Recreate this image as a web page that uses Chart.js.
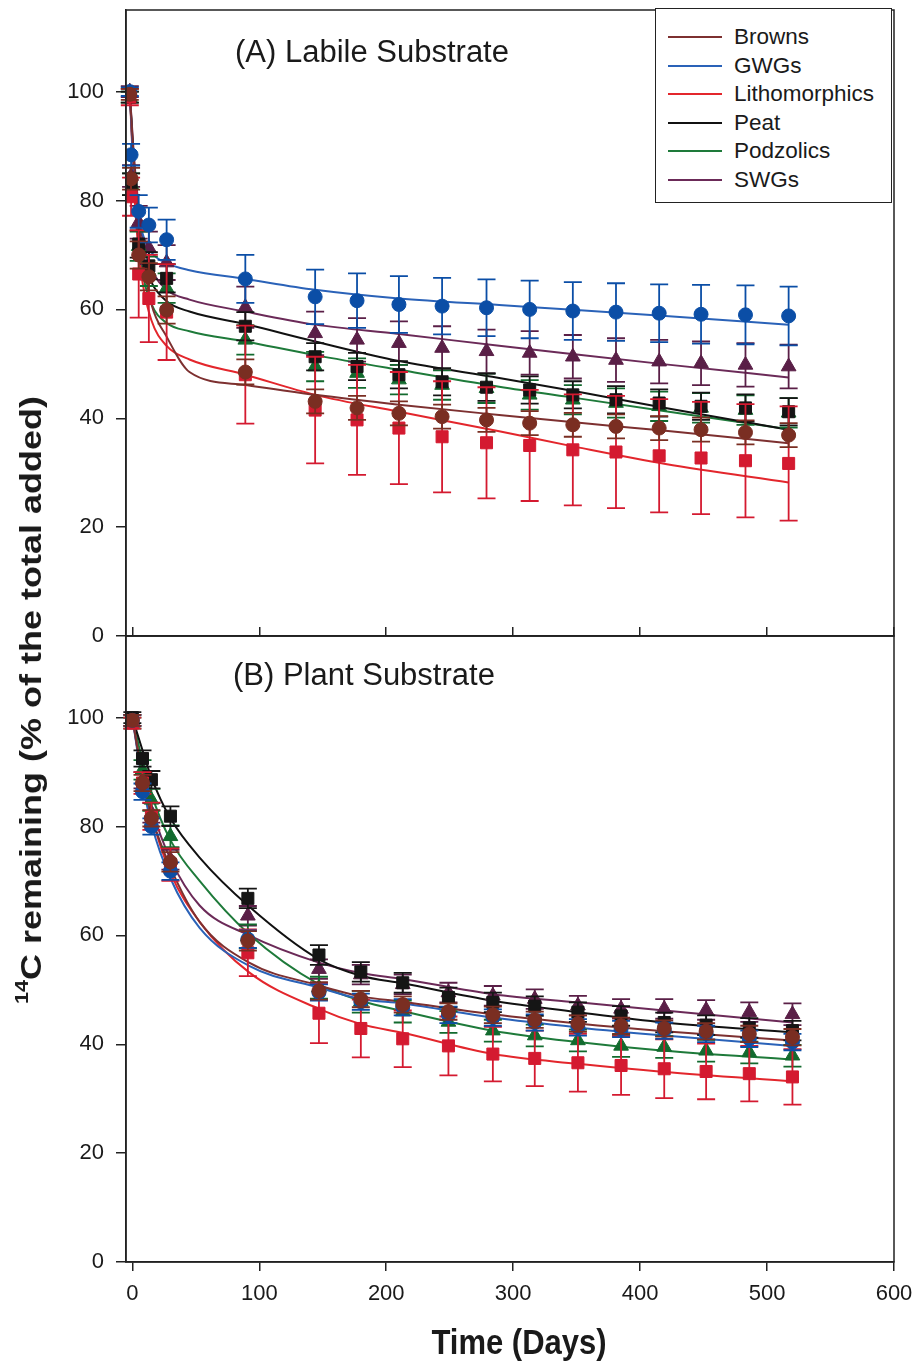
<!DOCTYPE html>
<html>
<head>
<meta charset="utf-8">
<script src="https://cdn.jsdelivr.net/npm/chart.js"></script>
<style>
  body { margin: 0; background: #fff; }
  #page { position: relative; width: 923px; height: 1364px; font-family: "Liberation Sans", Arial, sans-serif; color: #1a1a1a; }
  canvas { position: absolute; left: 0; }
  .ptitle { position: absolute; font-size: 31px; white-space: nowrap; }
  #ytitle { position: absolute; left: 31px; top: 700px; font-size: 30px; font-weight: bold; white-space: nowrap;
            transform: translate(-50%, -50%) rotate(-90deg) scaleX(1.2); }
  #xtitle { position: absolute; left: 519px; top: 1342px; font-size: 31px; font-weight: bold; white-space: nowrap;
            transform: translate(-50%, -50%) scaleY(1.15); }
  #legend { position: absolute; left: 655px; top: 8px; width: 237px; height: 195px; border: 1.5px solid #222; background: #fff; box-sizing: border-box; }
  .lrow { position: absolute; left: 0; height: 28px; font-size: 22.5px; line-height: 28px; white-space: nowrap; }
  .lrow i { position: absolute; left: 12px; top: 13px; width: 54px; height: 2px; }
  .lrow span { position: absolute; left: 78px; top: 0; }
</style>
</head>
<body>
<div id="page">
  <canvas id="chartA" width="923" height="646" style="top:0"></canvas>
  <canvas id="chartB" width="923" height="696" style="top:626px"></canvas>
  <div class="ptitle" style="left:235px; top:34px;">(A) Labile Substrate</div>
  <div class="ptitle" style="left:233px; top:657px;">(B) Plant Substrate</div>
  <div id="legend"></div>
  <div id="ytitle"><span style="font-size:0.6em; position:relative; top:-0.7em;">14</span>C remaining (% of the total added)</div>
  <div id="xtitle">Time (Days)</div>
</div>
<script>
// series
const seriesNames = ['Browns', 'GWGs', 'Lithomorphics', 'Peat', 'Podzolics', 'SWGs'];
const lineColors = ['#7d3030', '#2a62b8', '#e3262c', '#111111', '#1e7a3a', '#6b2a58'];
const markerColors = ['#7a2e22', '#0b4ea6', '#d41a30', '#151515', '#126a2e', '#5a1f47'];
const markerStyles = ['circle', 'circle', 'rect', 'rect', 'triangle', 'triangle'];

const xTicks = [0, 100, 200, 300, 400, 500, 600];
const yTicks = [0, 20, 40, 60, 80, 100];

// (A) Labile substrate - measured points
const daysA = [-2, -1, 5, 13, 27, 89, 144, 177, 210, 244, 279, 313, 347, 381, 415, 448, 483, 517];
const brownsA = [99.5, 84, 70, 66, 59.9, 48.5, 43.1, 41.9, 40.9, 40.3, 39.7, 39.1, 38.8, 38.5, 38.2, 37.9, 37.4, 36.9];
const gwgsA = [100, 88.4, 78, 75.5, 72.8, 65.6, 62.3, 61.6, 60.9, 60.6, 60.3, 60.0, 59.7, 59.5, 59.3, 59.1, 59.0, 58.8];
const lithoA = [99, 80.7, 66.5, 62, 59.5, 48.0, 41.5, 39.7, 38.2, 36.6, 35.5, 35.0, 34.2, 33.8, 33.1, 32.7, 32.2, 31.7];
const peatA = [99, 83, 72, 68, 65.7, 56.9, 51.3, 49.5, 48.0, 46.7, 45.7, 45.2, 44.3, 43.4, 42.8, 42.2, 41.9, 41.2];
const podzA = [99, 83, 71.6, 67, 63.9, 54.4, 49.5, 48.3, 47.1, 46.1, 45.5, 44.3, 43.4, 42.8, 42.2, 41.9, 41.5, 41.0];
const swgsA = [100, 84.5, 76, 71.3, 68.6, 60.4, 55.6, 54.4, 53.8, 52.9, 52.3, 52.0, 51.3, 50.7, 50.4, 50.1, 49.8, 49.5];

const brownsErrA = [1, 2, 2.5, 2.5, 2.5, 2.3, 2.2, 2.2, 2.2, 2.2, 2.2, 2.2, 2.2, 2.2, 2.2, 2.2, 2.2, 2.2];
const gwgsErrA = [0.8, 2, 3, 3.2, 3.7, 4.4, 5, 5, 5.2, 5.2, 5.2, 5.3, 5.3, 5.3, 5.3, 5.4, 5.4, 5.4];
const lithoErrA = [1.5, 3.5, 8, 8, 8.8, 9, 9.8, 10.1, 10.3, 10.2, 10.2, 10.2, 10.2, 10.3, 10.4, 10.3, 10.4, 10.5];
const peatErrA = [1, 2, 2.5, 2.5, 2.6, 2.6, 2.5, 2.5, 2.5, 2.5, 2.5, 2.5, 2.5, 2.5, 2.5, 2.5, 2.5, 2.5];
const podzErrA = [1, 2, 2.7, 2.7, 2.7, 2.7, 2.7, 2.7, 2.7, 2.7, 2.7, 2.7, 2.7, 2.7, 2.7, 2.7, 2.7, 2.7];
const swgsErrA = [1, 2, 3, 3, 3.2, 3.8, 4, 4, 4, 4, 4, 4, 4, 4, 4, 4, 4, 4];

// (A) fitted curves
const fitDaysA = [-2, 1, 4, 8, 15, 27, 45, 89, 144, 210, 289, 350, 420, 517];
const brownsFitA = [100, 88, 79, 70, 61, 55, 48.5, 46.1, 44.3, 42.5, 40.6, 39.2, 37.7, 35.4];
const gwgsFitA = [100, 86, 79, 74, 70.5, 68.5, 67.2, 65.6, 63.6, 62.0, 60.8, 59.9, 58.8, 57.2];
const lithoFitA = [100, 84, 73, 65, 58, 53.3, 50.8, 48, 44.3, 41.2, 37.6, 34.7, 31.6, 28.2];
const peatFitA = [100, 87, 78, 70, 65, 61.5, 59.6, 57.3, 54.1, 50.5, 47.4, 44.9, 41.9, 37.9];
const podzFitA = [100, 86, 76, 67, 61, 57.5, 56, 54.1, 51.6, 48.9, 45.8, 43.7, 41.3, 38.0];
const swgsFitA = [100, 89, 81, 73, 67.5, 63.6, 61.8, 59.6, 57.2, 55.5, 53.3, 51.7, 49.9, 47.5];

// (B) Plant substrate - measured points
const daysB = [0, 8, 15, 30, 91, 147, 180, 213, 249, 284, 317, 351, 385, 419, 452, 486, 520];
const brownsB = [99.5, 88, 81.5, 73.5, 59.0, 49.8, 48.3, 47.3, 46.0, 45.4, 44.5, 43.8, 43.4, 42.9, 42.4, 41.9, 41.3];
const gwgsB = [99.5, 86.4, 80.0, 71.8, 59.3, 49.5, 47.8, 46.8, 45.4, 44.9, 44.0, 43.1, 42.8, 42.5, 41.9, 41.0, 40.4];
const lithoB = [99, 88, 81.9, 73.0, 56.8, 45.7, 42.9, 41.0, 39.7, 38.2, 37.4, 36.6, 36.1, 35.5, 35.0, 34.6, 34.0];
const peatB = [100, 92.5, 88.6, 81.9, 66.8, 56.4, 53.3, 51.3, 48.6, 47.7, 47.0, 45.9, 45.2, 44.0, 43.5, 43.0, 42.5];
const podzB = [99, 90.4, 84.9, 78.2, 59.8, 50.4, 47.8, 46.0, 44.1, 42.5, 41.6, 40.7, 39.7, 39.5, 38.8, 38.5, 37.9];
const swgsB = [99.5, 88.5, 82.5, 73.9, 63.6, 53.8, 52.8, 51.0, 49.5, 48.9, 48.3, 47.1, 46.5, 46.5, 46.3, 45.9, 45.5];

const brownsErrB = [1, 1.5, 1.5, 1.8, 1.8, 1.6, 1.5, 1.5, 1.5, 1.5, 1.5, 1.5, 1.5, 1.5, 1.5, 1.5, 1.5];
const gwgsErrB = [1, 1.5, 1.5, 1.6, 1.6, 1.5, 1.5, 1.5, 1.5, 1.5, 1.5, 1.5, 1.5, 1.5, 1.5, 1.5, 1.5];
const lithoErrB = [1, 2, 2.5, 3, 4.3, 5.5, 5.3, 5.2, 5.4, 5.0, 5.1, 5.3, 5.4, 5.4, 5.1, 5.1, 5.1];
const peatErrB = [1, 1.5, 1.6, 1.8, 1.8, 1.8, 1.8, 1.8, 1.8, 1.8, 1.8, 1.8, 1.8, 1.8, 1.8, 1.8, 1.8];
const podzErrB = [1, 1.8, 2, 2, 2.2, 2, 2, 2, 2, 2, 2, 2, 2, 2, 2, 2, 2];
const swgsErrB = [1, 1.5, 1.8, 1.8, 1.8, 1.8, 1.8, 1.8, 1.8, 1.8, 1.8, 1.8, 1.8, 1.8, 1.8, 1.8, 2];

// (B) fitted curves
const fitDaysB = [0, 8, 15, 30, 53, 92, 147, 180, 213, 284, 351, 419, 520];
const brownsFitB = [100, 89, 82, 72.5, 62.5, 55, 50.8, 48.8, 47.8, 45.5, 43.8, 42.4, 40.7];
const gwgsFitB = [100, 88, 80.5, 70.5, 61.4, 54.4, 50.4, 48.3, 47.5, 44.9, 43.1, 41.6, 39.7];
const lithoFitB = [100, 89, 82, 71.5, 62.5, 53.2, 46.5, 43.7, 42.1, 38.2, 36.4, 34.9, 33.2];
const peatFitB = [100, 94, 89, 81.5, 74.3, 65.3, 55.6, 52.6, 51.2, 48.0, 45.9, 44.0, 42.2];
const podzFitB = [100, 92, 86, 77.5, 70.0, 60.2, 51.0, 48.0, 46.1, 42.5, 40.4, 38.8, 37.2];
const swgsFitB = [100, 90, 83.5, 74, 65.5, 60.0, 55.0, 53.1, 52.0, 49.2, 47.7, 46.2, 44.0];

const panelA = {
  days: daysA, fitDays: fitDaysA,
  vals: [brownsA, gwgsA, lithoA, peatA, podzA, swgsA],
  errs: [brownsErrA, gwgsErrA, lithoErrA, peatErrA, podzErrA, swgsErrA],
  fits: [brownsFitA, gwgsFitA, lithoFitA, peatFitA, podzFitA, swgsFitA]
};
const panelB = {
  days: daysB, fitDays: fitDaysB,
  vals: [brownsB, gwgsB, lithoB, peatB, podzB, swgsB],
  errs: [brownsErrB, gwgsErrB, lithoErrB, peatErrB, podzErrB, swgsErrB],
  fits: [brownsFitB, gwgsFitB, lithoFitB, peatFitB, podzFitB, swgsFitB]
};

const axisColor = '#222';
const tickFont = { family: '"Liberation Sans", Arial, sans-serif', size: 22 };

// error bars drawn just before each marker dataset
const errorBars = {
  id: 'errorBars',
  beforeDatasetDraw(chart, args) {
    const ds = chart.data.datasets[args.index];
    if (!ds.errors) return;
    const meta = args.meta;
    const yScale = chart.scales[meta.yAxisID];
    const ctx = chart.ctx;
    ctx.save();
    ctx.strokeStyle = ds.backgroundColor;
    ctx.lineWidth = 1.8;
    meta.data.forEach((pt, i) => {
      const v = ds.data[i].y, e = ds.errors[i];
      const y1 = yScale.getPixelForValue(v + e);
      const y2 = yScale.getPixelForValue(v - e);
      ctx.beginPath();
      ctx.moveTo(pt.x, y1); ctx.lineTo(pt.x, y2);
      ctx.moveTo(pt.x - 9, y1); ctx.lineTo(pt.x + 9, y1);
      ctx.moveTo(pt.x - 9, y2); ctx.lineTo(pt.x + 9, y2);
      ctx.stroke();
    });
    ctx.restore();
  }
};

const frame = {
  id: 'frame',
  afterDraw(chart) {
    const a = chart.chartArea, ctx = chart.ctx;
    ctx.save();
    ctx.strokeStyle = axisColor;
    ctx.lineWidth = 1.5;
    ctx.strokeRect(a.left, a.top, a.right - a.left, a.bottom - a.top);
    ctx.restore();
  }
};

// labels never sit on the plot edges here, so no extra room for them
function noEdgePadding(s) {
  s.paddingTop = 0; s.paddingBottom = 0; s.paddingLeft = 0; s.paddingRight = 0;
}

function buildDatasets(p) {
  const out = [];
  seriesNames.forEach((name, s) => {
    out.push({
      label: name + ' fit',
      data: p.fitDays.map((d, i) => ({ x: d, y: p.fits[s][i] })),
      showLine: true,
      borderColor: lineColors[s],
      borderWidth: 2,
      pointRadius: 0,
      cubicInterpolationMode: 'monotone',
      order: 2
    });
  });
  seriesNames.forEach((name, s) => {
    const st = markerStyles[s];
    out.push({
      label: name,
      data: p.days.map((d, i) => ({ x: d, y: p.vals[s][i] })),
      errors: p.errs[s],
      showLine: false,
      pointStyle: st,
      pointRadius: st === 'circle' ? 7 : 8.5,
      backgroundColor: markerColors[s],
      borderColor: markerColors[s],
      borderWidth: 1,
      order: 1
    });
  });
  return out;
}

const yScaleOpts = {
  min: 0, max: 115,
  afterBuildTicks: s => { s.ticks = yTicks.map(v => ({ value: v })); },
  afterFit: s => { s.width = 126; noEdgePadding(s); },
  ticks: { font: tickFont, color: '#1a1a1a', padding: 12 },
  grid: { drawOnChartArea: false, tickLength: 10, color: axisColor, lineWidth: 1.5 },
  border: { color: axisColor, width: 1.5 }
};

const common = {
  responsive: false,
  animation: false,
  devicePixelRatio: 1,
  plugins: { legend: { display: false }, tooltip: { enabled: false } },
  events: []
};

new Chart(document.getElementById('chartA'), {
  type: 'scatter',
  data: { datasets: buildDatasets(panelA) },
  options: Object.assign({}, common, {
    layout: { padding: { left: 0, right: 29, top: 10, bottom: 10 } },
    scales: {
      x: { type: 'linear', min: -5, max: 600, display: false },
      y: yScaleOpts
    }
  }),
  plugins: [errorBars, frame]
});

new Chart(document.getElementById('chartB'), {
  type: 'scatter',
  data: { datasets: buildDatasets(panelB) },
  options: Object.assign({}, common, {
    layout: { padding: { left: 0, right: 29, top: 0, bottom: 0 } },
    scales: {
      x: {
        type: 'linear', min: -5, max: 600, position: 'bottom',
        afterBuildTicks: s => { s.ticks = xTicks.map(v => ({ value: v })); },
        afterFit: s => { s.height = 60; noEdgePadding(s); },
        ticks: { font: tickFont, color: '#1a1a1a', padding: 10, maxRotation: 0 },
        grid: { drawOnChartArea: false, tickLength: 9, color: axisColor, lineWidth: 1.5 },
        border: { color: axisColor, width: 1.5 }
      },
      xTop: {
        type: 'linear', axis: 'x', min: -5, max: 600, position: 'top',
        afterBuildTicks: s => { s.ticks = xTicks.map(v => ({ value: v })); },
        afterFit: s => { s.height = 10; noEdgePadding(s); },
        ticks: { display: false },
        grid: { drawOnChartArea: false, tickLength: 9, color: axisColor, lineWidth: 1.5 },
        border: { color: axisColor, width: 1.5 }
      },
      y: yScaleOpts
    }
  }),
  plugins: [errorBars, frame]
});

// legend box
const legend = document.getElementById('legend');
seriesNames.forEach((name, s) => {
  const row = document.createElement('div');
  row.className = 'lrow';
  row.style.top = (14 + s * 28.6) + 'px';
  row.innerHTML = '<i style="background:' + lineColors[s] + '"></i><span>' + name + '</span>';
  legend.appendChild(row);
});
</script>
</body>
</html>
